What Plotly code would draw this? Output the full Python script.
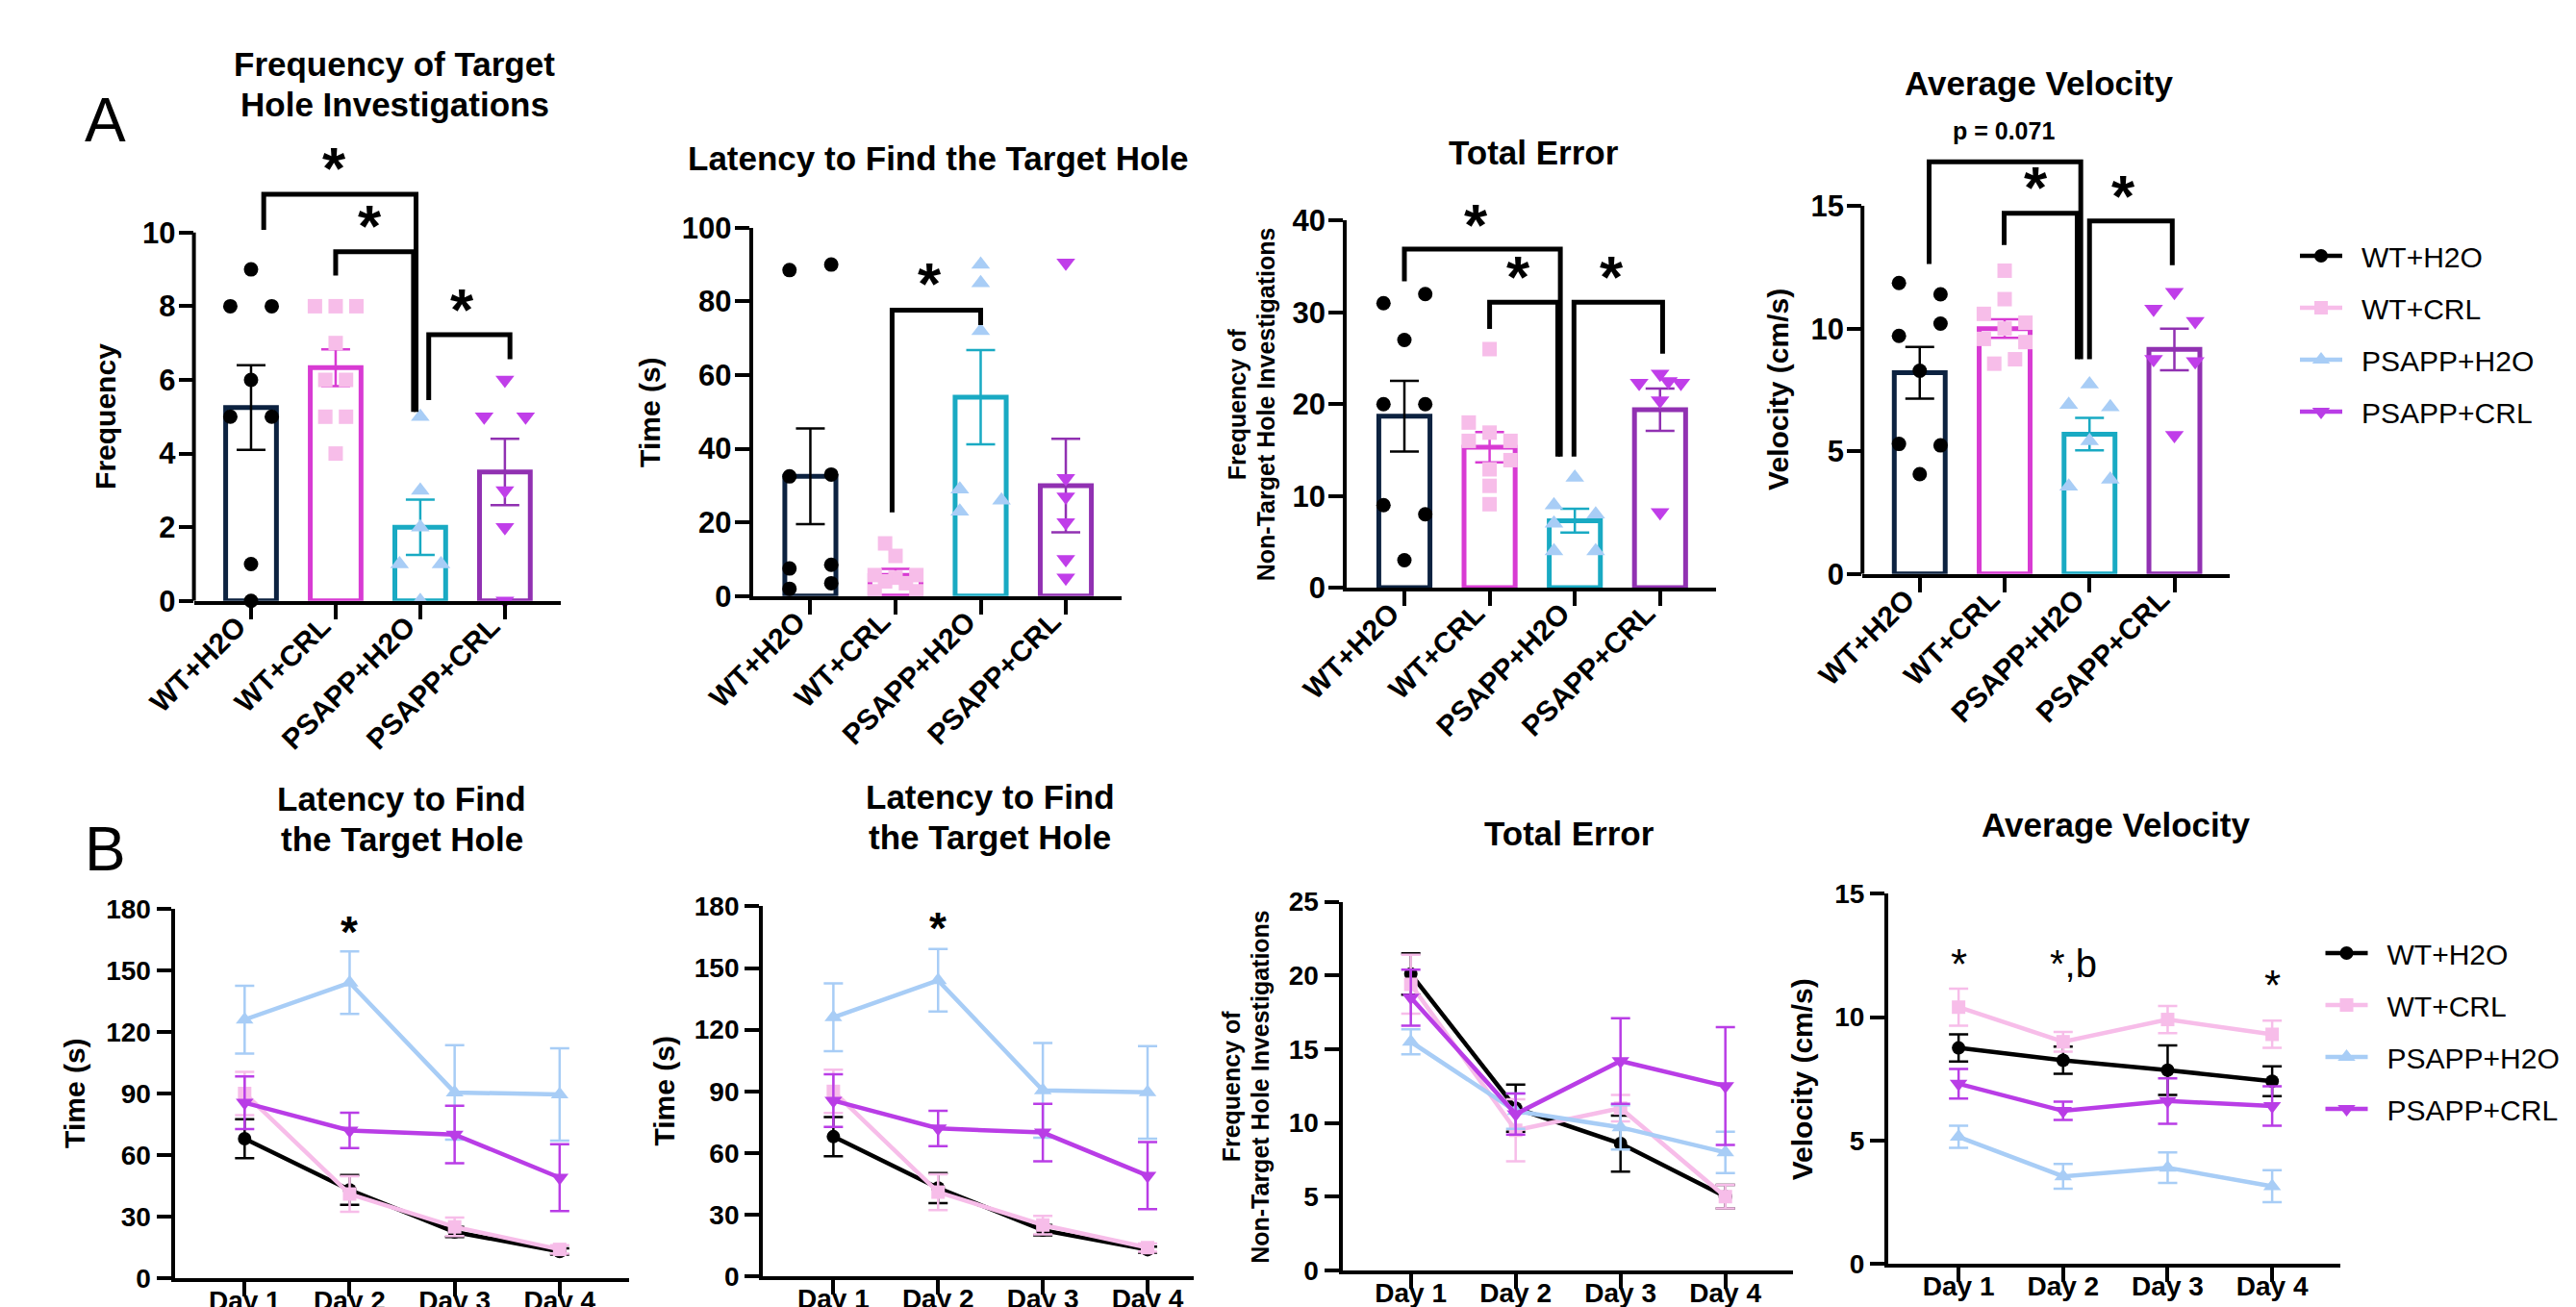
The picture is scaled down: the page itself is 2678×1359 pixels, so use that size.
import plotly.graph_objects as go

W, H = 2678, 1359
FONT = "Liberation Sans, Arial, Helvetica, sans-serif"

groups = ["WT+H2O", "WT+CRL", "PSAPP+H2O", "PSAPP+CRL"]
days = ["Day 1", "Day 2", "Day 3", "Day 4"]
day_pos = [1, 2, 3, 4]

# ---------------- Panel A data (bar = mean, error = SEM, individual animals) -------------
freq_mean = [5.25, 6.33, 2.0, 3.5]
freq_sem = [1.15, 0.5, 0.75, 0.9]
freq_wt_h2o = [9, 8, 8, 6, 5, 5, 1, 0]
freq_wt_crl = [8, 8, 8, 7, 6, 6, 5, 5, 4]
freq_ps_h2o = [5, 3, 2, 1, 1, 0]
freq_ps_crl = [6, 5, 5, 3, 2, 0]

lat_mean = [32.5, 5.6, 54.0, 30.0]
lat_sem = [13.0, 1.8, 12.8, 12.7]
lat_wt_h2o = [88.5, 90, 32.5, 33, 7.5, 8.5, 3.5, 2]
lat_wt_crl = [14.3, 10.9, 5.7, 5.7, 5.0, 4.0, 3.5, 1.3, 1.3]
lat_ps_h2o = [90, 85, 72, 29, 23, 26]
lat_ps_crl = [90.5, 32, 27, 20, 10, 5]

err_mean = [18.7, 15.3, 7.3, 19.4]
err_sem = [3.85, 1.65, 1.3, 2.3]
err_wt_h2o = [31, 32, 27, 20, 20, 9, 8, 3]
err_wt_crl = [26, 18, 16.9, 16, 16, 13.9, 12.9, 11.1, 9.1]
err_ps_h2o = [12, 9, 8, 7, 4, 4]
err_ps_crl = [23.3, 22.3, 22.3, 22.5, 20.4, 8.2]

vel_mean = [8.2, 10.0, 5.7, 9.15]
vel_sem = [1.05, 0.38, 0.66, 0.85]
vel_wt_h2o = [11.86, 11.4, 10.2, 9.7, 8.28, 5.3, 5.24, 4.07]
vel_wt_crl = [12.36, 11.2, 10.6, 10.24, 10.0, 9.58, 9.45, 8.75, 8.57]
vel_ps_h2o = [7.73, 6.9, 6.8, 5.42, 3.85, 3.57]
vel_ps_crl = [11.49, 10.8, 10.3, 8.75, 8.66, 5.66]

# jitter slots of the individual points (-1 left, 0 centre, +1 right)
freq_slots = [[0, -1, 1, 0, -1, 1, 0, 0], [-1, 0, 1, 0, -0.5, 0.5, -0.5, 0.5, 0],
              [0, 0, 0, -1, 1, 0], [0, -1, 1, 0, 0, 0]]
lat_slots = [[-1, 1, -1, 1, -1, 1, 1, -1], [-0.5, 0, -1, 1, 0, -0.5, 0.5, -1, 1],
             [0, 0, 0, -1, -1, 1], [0, 0, 0, 0, 0, 0]]
err_slots = [[-1, 1, 0, -1, 1, -1, 1, 0], [0, -1, 0, -1, 1, 1, 0, 0, 0],
             [0, -1, 1, -1, -1, 1], [0, -1, 1, 0.4, 0, 0]]
vel_slots = [[-1, 1, 1, -1, 0, -1, 1, 0], [0, 0, -1, 1, 0, -1, 1, 0.5, -0.5],
             [0, -1, 1, 0, 1, -1], [0, -1, 1, -1, 1, 0]]

# significance brackets: (x_left, x_right, y_left_end, y_top, y_right_end)
freq_brackets = [(0.15, 1.95, 10.07, 11.04, 5.13), (1.0, 1.92, 8.83, 9.48, 5.13),
                 (2.10, 3.06, 5.45, 7.23, 6.56)]
freq_marks = [("*", 1.06, 11.75), ("*", 1.48, 10.2), ("*", 2.58, 7.92)]
lat_brackets = [(0.96, 2.0, 22.7, 77.6, 73.6)]
lat_marks = [("*", 1.477, 84.9)]
err_brackets = [(0.0, 1.83, 33.4, 36.9, 14.3), (1.0, 1.80, 28.2, 31.1, 14.3),
                (1.99, 3.03, 14.3, 31.1, 25.5)]
err_marks = [("*", 0.915, 39.55), ("*", 1.418, 33.87), ("*", 2.515, 33.87)]
vel_brackets = [(0.11, 1.897, 12.63, 16.8, 8.75), (0.994, 1.855, 13.41, 14.7, 8.75),
                (2.0, 2.975, 8.75, 14.39, 12.58)]
vel_marks = [("*", 1.442, 15.78), ("*", 2.48, 15.41)]
vel_ptext = ("p = 0.071", 0.988, 17.81)

# ---------------- Panel B data (mean, SEM per day) ----------------
latd_mean = [[68, 43, 22.5, 13], [90, 41, 25, 14], [126, 144, 90.5, 89.5], [85.5, 72, 70, 49]]
latd_sem = [[9.5, 7.3, 2.5, 1.5], [10.5, 8.7, 4.5, 2.0], [16.5, 15.2, 23, 22.5], [12.8, 8.6, 14, 16.3]]
errd_mean = [[20.1, 11.0, 8.6, 5.0], [19.4, 9.5, 11.0, 5.0], [15.5, 10.8, 9.7, 8.0], [18.5, 10.6, 14.2, 12.5]]
errd_sem = [[1.4, 1.6, 1.9, 0.8], [2.0, 2.1, 0.9, 0.8], [0.85, 1.2, 1.5, 1.4], [1.9, 1.4, 2.9, 4.0]]
veld_mean = [[8.75, 8.25, 7.85, 7.4], [10.4, 9.0, 9.9, 9.3], [5.15, 3.55, 3.9, 3.15], [7.3, 6.2, 6.6, 6.4]]
veld_sem = [[0.55, 0.55, 1.0, 0.6], [0.75, 0.4, 0.55, 0.55], [0.45, 0.5, 0.62, 0.65], [0.6, 0.37, 0.92, 0.8]]
latd_marks = [("*", 2, 168.7)]
latd2_marks = [("*", 2, 169.3)]
veld_marks = [("*", 1, 12.15), ("*", 4, 11.29)]
veld_text = ("*,b", 2.1, 11.29)

# ---------------- styles ----------------
BAR_LINE = ["#0c2240", "#d83bd3", "#19aac3", "#9131b2"]
ERR_COL = ["#000000", "#d83bd3", "#19aac3", "#9131b2"]
PT_COL = ["#000000", "#f7bde9", "#a8cdf6", "#c03ee9"]
LINE_COL = ["#000000", "#f7bde9", "#a8cdf6", "#b93de6"]
SYMB = ["circle", "square", "triangle-up", "triangle-down"]
MSIZE = [15, 15, 17, 17]
LSIZE = [14, 14, 16, 16]
JIT = 0.245


def px2x(p):
    return p / W


def px2y(p):
    return 1 - p / H


fig = go.Figure()
annotations = []
shapes = []
layout_axes = {}


def axnames(i):
    s = "" if i == 1 else str(i)
    return "x" + s, "y" + s, "xaxis" + s, "yaxis" + s


def tickfont(size):
    return dict(family=FONT, size=size, color="black", weight="bold")


def add_mark(text, x, y, xa, ya, size, bold=True, kind="star", xshift=0):
    # star: y is the glyph centre; text: y is the baseline
    shift = 0.0 if kind == "star" else 0.55 * size
    annotations.append(dict(text=text, x=x, y=y, xref=xa, yref=ya, showarrow=False,
                            xanchor="center", yanchor="middle", yshift=shift, xshift=xshift,
                            font=dict(family=FONT, size=size, color="black",
                                      weight="bold" if bold else "normal")))


def bar_panel(i, xpx, y0px, ytmpx, tickmax, rmax, dtick, means, sems, pts, slots,
              brackets, marks, own_line):
    xa, ya, xk, yk = axnames(i)
    ytop = y0px - (y0px - ytmpx) * rmax / tickmax
    for g in range(4):
        fig.add_trace(go.Bar(x=[g], y=[means[g]], width=0.6, xaxis=xa, yaxis=ya,
                             marker=dict(color="white", line=dict(color=BAR_LINE[g], width=5)),
                             error_y=dict(type="data", array=[sems[g]], color=ERR_COL[g],
                                          thickness=2.5, width=15),
                             showlegend=False, hoverinfo="skip"))
    for g in range(4):
        xs = [g + s * JIT for s in slots[g]]
        fig.add_trace(go.Scatter(x=xs, y=pts[g], mode="markers", xaxis=xa, yaxis=ya,
                                 marker=dict(symbol=SYMB[g], color=PT_COL[g], size=MSIZE[g],
                                             line=dict(width=0)),
                                 cliponaxis=False, showlegend=False, hoverinfo="skip"))
    for (xl, xr, yl, yt, yr) in brackets:
        fig.add_trace(go.Scatter(x=[xl, xl, xr, xr], y=[yl, yt, yt, yr], mode="lines",
                                 xaxis=xa, yaxis=ya, line=dict(color="black", width=5),
                                 showlegend=False, hoverinfo="skip"))
    for (t, x, y) in marks:
        add_mark(t, x, y, xa, ya, 62, xshift=-7)
    layout_axes[xk] = dict(domain=[px2x(xpx[0]), px2x(xpx[1])], range=[-0.675, 3.655],
                           anchor=ya, tickmode="array", tickvals=[0, 1, 2, 3], ticktext=groups,
                           tickangle=-45, showgrid=False, zeroline=False, showline=True,
                           linewidth=4, linecolor="black", ticks="outside", ticklen=15,
                           tickwidth=4, tickcolor="black", tickfont=tickfont(30),
                           ticklabelstandoff=-22, ticklabelshift=-14)
    layout_axes[yk] = dict(domain=[px2y(y0px), px2y(ytop)], range=[0, rmax], anchor=xa,
                           tickmode="linear", tick0=0, dtick=dtick,
                           showgrid=False, zeroline=False, showline=not own_line,
                           linewidth=4, linecolor="black", ticks="outside", ticklen=15,
                           tickwidth=4, tickcolor="black", tickfont=tickfont(31),
                           ticklabelstandoff=-3)
    if own_line:
        layout_axes[yk]["tickvals"] = list(range(0, tickmax + 1, dtick))
        layout_axes[yk]["tickmode"] = "array"
        shapes.append(dict(type="line", xref=xa + " domain", yref=ya, x0=0, x1=0, y0=0,
                           y1=tickmax, line=dict(color="black", width=4)))


def line_panel(i, xpx, xr, y0px, ytpx, ymax, dtick, means, sems, marks, legend_name):
    xa, ya, xk, yk = axnames(i)
    for g in range(4):
        if legend_name:
            kw = dict(showlegend=True, legend=legend_name, legendgroup=legend_name + str(g))
        else:
            kw = dict(showlegend=False)
        fig.add_trace(go.Scatter(x=day_pos, y=means[g], mode="lines+markers",
                                 name="\u2002" + groups[g],
                                 xaxis=xa, yaxis=ya,
                                 line=dict(color=LINE_COL[g], width=4.5),
                                 marker=dict(symbol=SYMB[g], color=LINE_COL[g], size=LSIZE[g],
                                             line=dict(width=0)),
                                 error_y=dict(type="data", array=sems[g], color=LINE_COL[g],
                                              thickness=2.5, width=10),
                                 cliponaxis=False, hoverinfo="skip", **kw))
    for (t, x, y) in marks:
        add_mark(t, x, y, xa, ya, 46)
    layout_axes[xk] = dict(domain=[px2x(xpx[0]), px2x(xpx[1])], range=xr, anchor=ya,
                           tickmode="array", tickvals=day_pos, ticktext=days,
                           showgrid=False, zeroline=False, showline=True, linewidth=4,
                           linecolor="black", ticks="outside", ticklen=15, tickwidth=4,
                           tickcolor="black", tickfont=tickfont(28), ticklabelstandoff=-20)
    layout_axes[yk] = dict(domain=[px2y(y0px), px2y(ytpx)], range=[0, ymax], anchor=xa,
                           tickmode="linear", tick0=0, dtick=dtick,
                           showgrid=False, zeroline=False, showline=True, linewidth=4,
                           linecolor="black", ticks="outside", ticklen=15, tickwidth=4,
                           tickcolor="black", tickfont=tickfont(28))


bar_panel(1, (193.6, 574.5), 616.8, 233.8, 10, 12.1, 2, freq_mean, freq_sem,
          [freq_wt_h2o, freq_wt_crl, freq_ps_h2o, freq_ps_crl], freq_slots,
          freq_brackets, freq_marks, True)
bar_panel(2, (774.7, 1158.0), 611.8, 228.8, 100, 100, 20, lat_mean, lat_sem,
          [lat_wt_h2o, lat_wt_crl, lat_ps_h2o, lat_ps_crl], lat_slots,
          lat_brackets, lat_marks, False)
bar_panel(3, (1392.2, 1775.8), 603.1, 221.4, 40, 40, 10, err_mean, err_sem,
          [err_wt_h2o, err_wt_crl, err_ps_h2o, err_ps_crl], err_slots,
          err_brackets, err_marks, False)
bar_panel(4, (1928.2, 2310.3), 588.8, 206.1, 15, 18.3, 5, vel_mean, vel_sem,
          [vel_wt_h2o, vel_wt_crl, vel_ps_h2o, vel_ps_crl], vel_slots,
          vel_brackets, vel_marks, True)
annotations.append(dict(text=vel_ptext[0], x=vel_ptext[1], y=vel_ptext[2], xref="x4", yref="y4",
                        showarrow=False, xanchor="center", yanchor="middle", yshift=6,
                        font=dict(family=FONT, size=25, color="black", weight="bold")))

line_panel(5, (173.5, 646.2), [0.333, 4.663], 1321.0, 937.0, 180, 30, latd_mean, latd_sem,
           latd_marks, "legend")
line_panel(6, (785.1, 1232.8), [0.327, 4.439], 1319.2, 934.4, 180, 30, latd_mean, latd_sem,
           latd2_marks, None)
line_panel(7, (1387.5, 1856.0), [0.347, 4.645], 1312.9, 929.6, 25, 5, errd_mean, errd_sem,
           [], None)
line_panel(8, (1954.9, 2425.2), [0.326, 4.654], 1306.3, 921.1, 15, 5, veld_mean, veld_sem,
           [], "legend2")
for (t, x, y) in veld_marks:
    add_mark(t, x, y, "x8", "y8", 44, bold=False)
add_mark(veld_text[0], veld_text[1], veld_text[2], "x8", "y8", 40, bold=False, kind="text")


def paper_text(text, xpx, ypx, size, bold=True, angle=0):
    # xpx, ypx: centre of the visible glyphs (cap height centre)
    if angle == 0:
        ypx = ypx - 0.25 * size
    else:
        xpx = xpx - 0.27 * size
    annotations.append(dict(text=text, x=px2x(xpx), y=px2y(ypx), xref="paper", yref="paper",
                            showarrow=False, xanchor="center", yanchor="middle",
                            textangle=angle,
                            font=dict(family=FONT, size=size, color="black",
                                      weight="bold" if bold else "normal")))


# panel letters
paper_text("A", 101, 133, 64, bold=False)
paper_text("B", 101, 891, 64, bold=False)
# titles
paper_text("Frequency of Target", 402, 67, 35)
paper_text("Hole Investigations", 402, 109.5, 35)
paper_text("Latency to Find the Target Hole", 967.5, 165, 35)
paper_text("Total Error", 1586, 159.7, 35)
paper_text("Average Velocity", 2111.5, 87, 35)
paper_text("Latency to Find", 409.8, 830.8, 35)
paper_text("the Target Hole", 409.8, 873.2, 35)
paper_text("Latency to Find", 1021.3, 828.9, 35)
paper_text("the Target Hole", 1021.3, 871.4, 35)
paper_text("Total Error", 1623.5, 866.8, 35)
paper_text("Average Velocity", 2191.1, 858.5, 35)
# y-axis titles
paper_text("Frequency", 109, 425, 30, angle=-90)
paper_text("Time (s)", 676, 421, 30, angle=-90)
paper_text("Frequency of", 1285, 412, 25, angle=-90)
paper_text("Non-Target Hole Investigations", 1315, 412, 25, angle=-90)
paper_text("Velocity (cm/s)", 1849, 397, 30, angle=-90)
paper_text("Time (s)", 77, 1129, 30, angle=-90)
paper_text("Time (s)", 689.7, 1127, 30, angle=-90)
paper_text("Frequency of", 1278.5, 1121.6, 25, angle=-90)
paper_text("Non-Target Hole Investigations", 1308, 1121.6, 25, angle=-90)
paper_text("Velocity (cm/s)", 1873.4, 1114, 30, angle=-90)

legend_style = dict(xanchor="left", yanchor="top", bgcolor="rgba(0,0,0,0)", borderwidth=0,
                    font=dict(family=FONT, size=30, color="black"), tracegroupgap=12,
                    itemsizing="trace", itemwidth=44, itemclick=False, itemdoubleclick=False)

fig.update_layout(
    width=W, height=H, margin=dict(l=0, r=0, t=0, b=0, autoexpand=False),
    paper_bgcolor="white", plot_bgcolor="white", barmode="overlay",
    font=dict(family=FONT, color="black"),
    annotations=annotations, shapes=shapes,
    legend=dict(x=px2x(2378), y=px2y(232), **legend_style),
    legend2=dict(x=px2x(2404.5), y=px2y(957), **legend_style),
    **layout_axes,
)

fig.write_html("out.html")
